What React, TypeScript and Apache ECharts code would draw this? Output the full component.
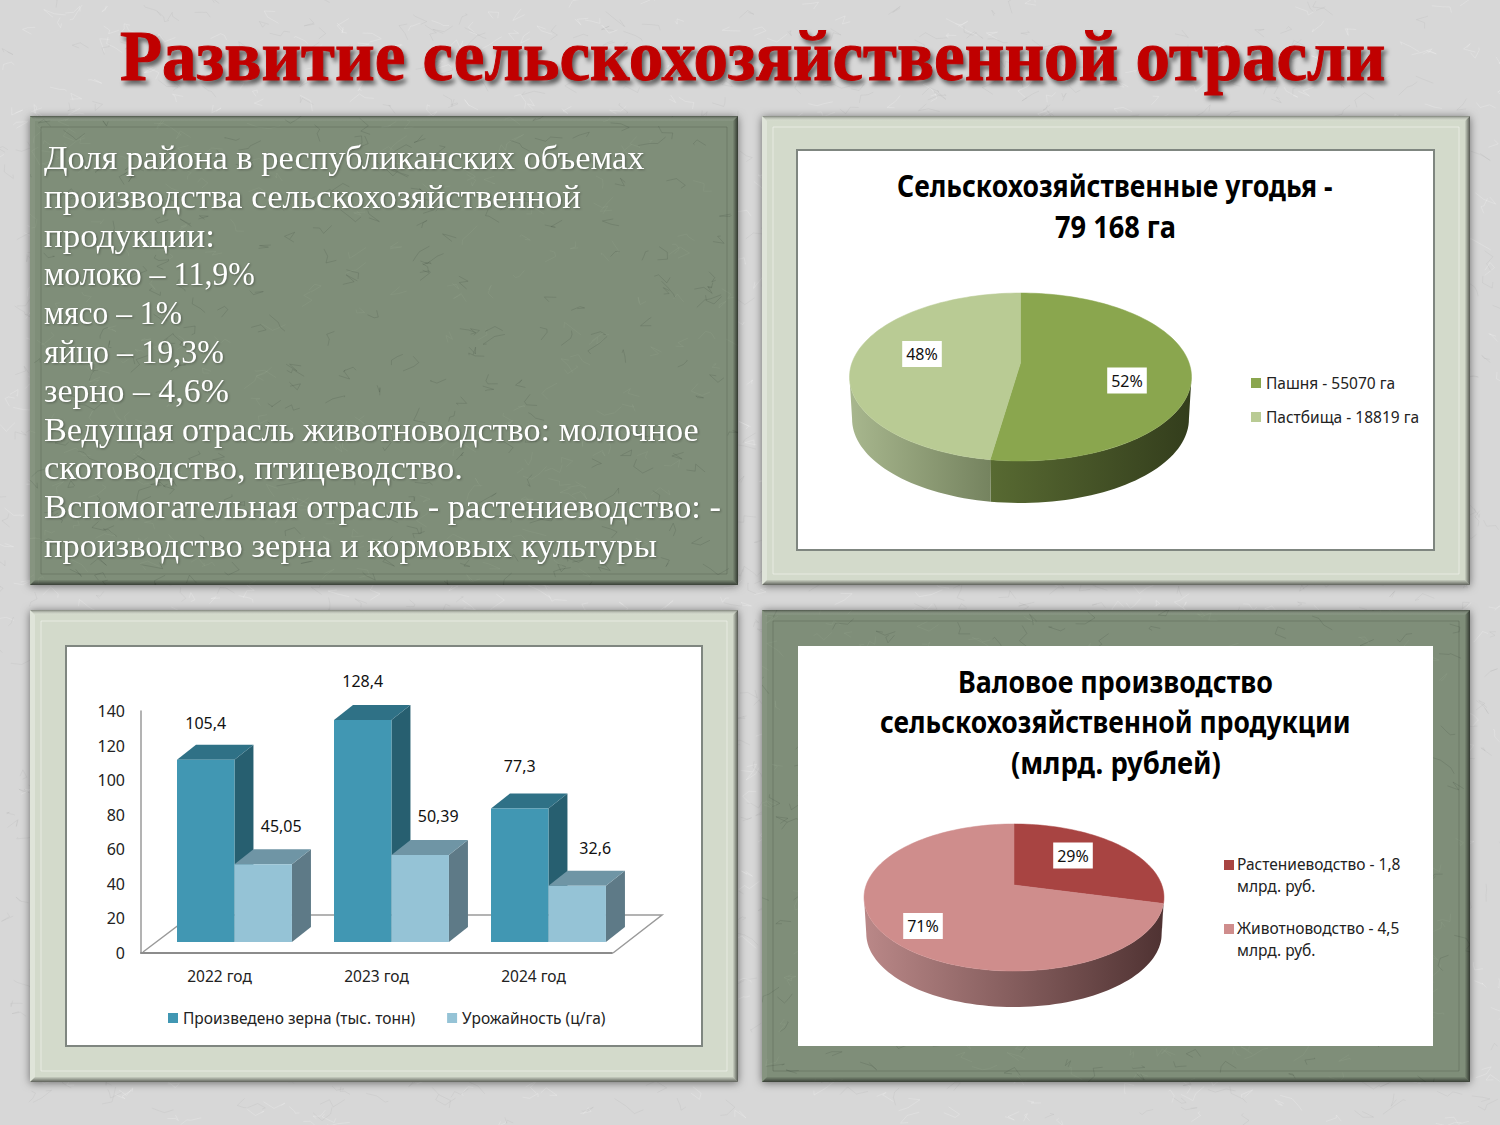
import React, { useEffect, useRef } from "react";
import * as echarts from "echarts";

const SLIDE_TITLE = "Развитие сельскохозяйственной отрасли";
const BODY_LINES = [
  "Доля района в республиканских объемах",
  "производства сельскохозяйственной",
  "продукции:",
  "молоко – 11,9%",
  "мясо – 1%",
  "яйцо – 19,3%",
  "зерно – 4,6%",
  "Ведущая отрасль животноводство: молочное",
  "скотоводство, птицеводство.",
  "Вспомогательная отрасль - растениеводство: -",
  "производство зерна и кормовых культуры",
];
const BODY_LINE_ENDS = [645, 581, 215, 255, 182, 224, 229, 699, 463, 721, 657];

const YEARS = ["2022 год", "2023 год", "2024 год"];
const GRAIN = [105.4, 128.4, 77.3];
const YIELD = [45.05, 50.39, 32.6];
const GRAIN_NAME = "Произведено зерна (тыс. тонн)";
const YIELD_NAME = "Урожайность (ц/га)";
const GRAIN_LABEL_LIFT = [37, 39, 42];
const YIELD_LABEL_LIFT = [38, 39, 38];

const LAND_TITLE = ["Сельскохозяйственные угодья -", "79 168 га"];
const LAND_NAMES = ["Пашня - 55070 га", "Пастбища - 18819 га"];
const LAND_SHARE = [52.4, 47.6];

const GROSS_TITLE = ["Валовое производство", "сельскохозяйственной продукции", "(млрд. рублей)"];
const GROSS_NAMES = ["Растениеводство - 1,8\nмлрд. руб.", "Животноводство - 4,5\nмлрд. руб."];
const GROSS_SHARE = [29, 71];

const SANS = '"Noto Sans", sans-serif';
const SERIF = '"Liberation Serif", serif';

function measure(text: string, font: string) {
  const c = document.createElement("canvas").getContext("2d")!;
  c.font = font;
  return c.measureText(text).width;
}

function fitted(text: string, x: number, y: number, width: number, size: number, family: string, weight: string, fill: string, extra: any = {}) {
  const w = measure(text, `${weight} ${size}px ${family}`);
  return {
    type: "text", x, y, scaleX: width / w, z: -5,
    style: { text, x: 0, y: 0, fontSize: size, fontFamily: family, fontWeight: weight, fill, align: "left", verticalAlign: "middle", ...extra },
  };
}

function texture(w: number, h: number, base: string, dark: string, light: string, seed: number) {
  const cv = document.createElement("canvas");
  cv.width = w; cv.height = h;
  const c = cv.getContext("2d")!;
  c.fillStyle = base; c.fillRect(0, 0, w, h);
  let s = seed;
  const r = () => { s = (s * 16807) % 2147483647; return s / 2147483647; };
  const count = Math.round((w * h) / 700);
  for (let i = 0; i < count; i++) {
    let x = r() * w, y = r() * h;
    c.strokeStyle = r() > 0.5 ? dark : light;
    c.lineWidth = 0.8;
    c.beginPath(); c.moveTo(x, y);
    for (let k = 0; k < 3; k++) { x += (r() - 0.5) * 24; y += (r() - 0.5) * 16; c.lineTo(x, y); }
    c.stroke();
  }
  return cv.toDataURL("image/png");
}

function grad(x0: number, y0: number, x1: number, y1: number, from: string, to: string) {
  return new echarts.graphic.LinearGradient(x0, y0, x1, y1, [{ offset: 0, color: from }, { offset: 1, color: to }]);
}

function panel(x: number, y: number, w: number, h: number, textured: boolean) {
  const B = 5, L = 11;
  const els: any[] = [{
    type: "rect", z: -9, shape: { x, y, width: w, height: h },
    style: { fill: textured ? "#7f8e79" : "#d3dacb", shadowBlur: 9, shadowColor: "rgba(0,0,0,.5)", shadowOffsetX: 0, shadowOffsetY: 1 },
  }];
  if (textured) {
    els.push({ type: "image", z: -8, style: { image: texture(w, h, "#7f8e79", "rgba(60,72,56,.22)", "rgba(170,182,160,.16)", 7 + x + y), x, y, width: w, height: h } });
  }
  const x2 = x + w, y2 = y + h;
  const hi = textured ? "rgba(255,255,255,.06)" : "rgba(255,255,255,.28)";
  const bevel = [
    [[x, y], [x2, y], [x2 - B, y + B], [x + B, y + B], grad(0, 0, 0, 1, "rgba(0,0,0,.4)", "rgba(255,255,255,.03)")],
    [[x, y], [x + B, y + B], [x + B, y2 - B], [x, y2], hi],
    [[x2, y], [x2, y2], [x2 - B, y2 - B], [x2 - B, y + B], grad(0, 0, 1, 0, "rgba(0,0,0,.04)", "rgba(0,0,0,.6)")],
    [[x, y2], [x + B, y2 - B], [x2 - B, y2 - B], [x2, y2], grad(0, 0, 0, 1, "rgba(0,0,0,.05)", "rgba(0,0,0,.55)")],
  ] as any[];
  bevel.forEach((b) => els.push({ type: "polygon", z: -7, shape: { points: b.slice(0, 4) }, style: { fill: b[4] } }));
  els.push({
    type: "rect", z: -7, shape: { x: x + L, y: y + L, width: w - 2 * L, height: h - 2 * L },
    style: { fill: "none", stroke: textured ? "rgba(50,60,48,.22)" : "rgba(255,255,255,.45)", lineWidth: 1 },
  });
  return els;
}

function whiteBox(x: number, y: number, w: number, h: number, border: boolean) {
  return { type: "rect", z: -6, shape: { x, y, width: w, height: h }, style: { fill: "#fff", stroke: border ? "#7f8680" : "none", lineWidth: 2 } };
}

type Pie = { cx: number; cy: number; A: number; B: number; p: number; depth: number };
const PIE_LAND: Pie = { cx: 1020.5, cy: 363, A: 168.6, B: 81.67, p: 1 / 6, depth: 42 };
const PIE_GROSS: Pie = { cx: 1014, cy: 885, A: 147.8, B: 71.4, p: 0.17, depth: 36 };

function rim(pie: Pie, deg: number, bottom = false): number[] {
  const t = (deg * Math.PI) / 180;
  const u = Math.sin(t), v = -Math.cos(t), d = 1 - pie.p * v;
  const k = bottom ? 0.985 : 1;
  return [pie.cx + (k * pie.A * u) / d, pie.cy + (pie.B * v) / d + (bottom ? pie.depth : 0)];
}

function arc(pie: Pie, a: number, b: number, bottom = false) {
  const pts: number[][] = [];
  const n = Math.max(2, Math.ceil(Math.abs(b - a) / 2));
  for (let i = 0; i <= n; i++) pts.push(rim(pie, a + ((b - a) * i) / n, bottom));
  return pts;
}

function pieSeries(name: string, shares: number[], idx: number, pie: Pie, color: string, side: string[], labelAt: number[]) {
  return {
    type: "custom", name, coordinateSystem: "none", silent: true, z: 3,
    itemStyle: { color },
    data: [[shares[idx]]],
    renderItem: (_: any, api: any) => {
      const value = api.value(0);
      const total = shares.reduce((s, x) => s + x, 0);
      const before = shares.slice(0, idx).reduce((s, x) => s + x, 0);
      const a = (before / total) * 360, b = a + (value / total) * 360;
      const lim = (Math.acos(-pie.p) * 180) / Math.PI;
      const fa = Math.max(a, lim), fb = Math.min(b, 360 - lim);
      const children: any[] = [];
      if (fb > fa) {
        children.push({
          type: "polygon",
          shape: { points: [...arc(pie, fa, fb), ...arc(pie, fb, fa, true)] },
          style: { fill: grad(0, 0, 1, 0, side[0], side[1]) },
        });
      }
      children.push({
        type: "polygon",
        shape: { points: [[pie.cx, pie.cy], ...arc(pie, a, b)] },
        style: { fill: color, stroke: color, lineWidth: 0.5 },
      });
      children.push({
        type: "text", z2: 10,
        style: { text: `${Math.round(value)}%`, x: labelAt[0], y: labelAt[1], fontSize: 16, fontFamily: SANS, fill: "#111", align: "center", verticalAlign: "middle", backgroundColor: "#fff", padding: [6, 4, 4, 4] },
      });
      return { type: "group", children };
    },
  };
}

const BAR_W = 0.366;
function barSeries(name: string, values: number[], start: number, labelDx: number, lifts: number[], colors: string[]) {
  return {
    type: "custom", name, coordinateSystem: "cartesian2d", silent: true, z: 3,
    encode: { x: 0, y: 1 },
    itemStyle: { color: colors[0] },
    data: values.map((v, i) => [i, v]),
    renderItem: (_: any, api: any) => {
      const i = api.value(0), v = api.value(1);
      const top = api.coord([i, v]), base = api.coord([i, 0]);
      const band = api.size([1, 0])[0];
      const w = band * BAR_W;
      const x0 = top[0] + band * start, x1 = x0 + w;
      const yt = top[1] - 11, yb = base[1] - 11;
      const dx = 19, dy = -15;
      return {
        type: "group",
        children: [
          { type: "polygon", shape: { points: [[x1, yt], [x1 + dx, yt + dy], [x1 + dx, yb + dy], [x1, yb]] }, style: { fill: colors[2] } },
          { type: "polygon", shape: { points: [[x0, yt], [x0 + dx, yt + dy], [x1 + dx, yt + dy], [x1, yt]] }, style: { fill: colors[1] } },
          { type: "rect", shape: { x: x0, y: yt, width: w, height: yb - yt }, style: { fill: colors[0] } },
          { type: "text", z2: 10, style: { text: String(v).replace(".", ","), x: (x0 + x1) / 2 + labelDx, y: yt - lifts[i], fontSize: 16, fontFamily: SANS, fill: "#111", align: "center", verticalAlign: "middle" } },
        ],
      };
    },
  };
}

function buildOption() {
  const graphic: any[] = [
    { type: "image", z: -10, style: { image: texture(1500, 1125, "#d7d7d7", "rgba(150,150,150,.16)", "rgba(245,245,245,.3)", 12345), x: 0, y: 0, width: 1500, height: 1125 } },
    fitted(SLIDE_TITLE, 120, 55, 1265, 72, SERIF, "bold", "#c00000", { stroke: "#c00000", lineWidth: 1 }),
    ...panel(30, 116, 708, 469, true),
    ...panel(762, 116, 708, 469, false),
    ...panel(30, 610, 708, 472, false),
    ...panel(762, 610, 708, 472, true),
    whiteBox(797, 150, 637, 400, true),
    whiteBox(66, 646, 636, 400, true),
    whiteBox(798, 646, 635, 400, false),
    // floor of the 3D column chart
    { type: "polyline", z: -4, shape: { points: [[143, 952], [192, 915], [662, 915], [613, 953]] }, style: { fill: "none", stroke: "#9a9a9a", lineWidth: 1.5 } },
  ];
  BODY_LINES.forEach((t, i) => {
    graphic.push(fitted(t, 44, 158 + i * 38.75, BODY_LINE_ENDS[i] - 44, 33, SERIF, "normal", "#ffffff"));
  });
  graphic.push(fitted(LAND_TITLE[0], 897, 185.5, 436, 30, SANS, "bold", "#000"));
  graphic.push(fitted(LAND_TITLE[1], 1055, 225.5, 121, 30, SANS, "bold", "#000"));
  graphic.push(fitted(GROSS_TITLE[0], 958, 681.5, 315, 30, SANS, "bold", "#000"));
  graphic.push(fitted(GROSS_TITLE[1], 880, 721.5, 471, 30, SANS, "bold", "#000"));
  graphic.push(fitted(GROSS_TITLE[2], 1011, 762.5, 210, 30, SANS, "bold", "#000"));

  const grossColors = ["#a84442", "#cf8d8c"];
  GROSS_NAMES.forEach((n, i) => {
    const y = 865 + i * 64;
    graphic.push({ type: "rect", z: -4, shape: { x: 1224, y: y - 5, width: 10, height: 10 }, style: { fill: grossColors[i] } });
    n.split("\n").forEach((line, j) => {
      graphic.push({ type: "text", z: -4, x: 1237, y: y - 1 + j * 22, style: { text: line, x: 0, y: 0, fontSize: 15.5, fontFamily: SANS, fill: "#222", align: "left", verticalAlign: "middle" } });
    });
  });

  const legendText = { fontSize: 15.5, fontFamily: SANS, color: "#222", lineHeight: 20 };
  return {
    animation: false,
    backgroundColor: "#d7d7d7",
    graphic: { elements: graphic },
    grid: { left: 141, top: 711, width: 471, height: 242, containLabel: false },
    xAxis: {
      type: "category", data: YEARS,
      axisLine: { lineStyle: { color: "#8c8c8c", width: 2 } },
      axisTick: { show: false },
      axisLabel: { margin: 15, fontSize: 15.5, fontFamily: SANS, color: "#222" },
    },
    yAxis: {
      type: "value", min: 0, max: 140, interval: 20,
      axisLine: { show: true, lineStyle: { color: "#9a9a9a", width: 1.5 } },
      axisTick: { show: false },
      splitLine: { show: false },
      axisLabel: { margin: 16, fontSize: 16, fontFamily: SANS, color: "#222" },
    },
    legend: [
      { left: 168, top: 1008, padding: 0, itemWidth: 10, itemHeight: 10, itemGap: 32, icon: "rect", selectedMode: false, textStyle: legendText, data: [GRAIN_NAME, YIELD_NAME] },
      { left: 1251, top: 373, padding: 0, orient: "vertical", itemWidth: 10, itemHeight: 10, itemGap: 14, icon: "rect", selectedMode: false, textStyle: legendText, data: LAND_NAMES },
    ],
    series: [
      barSeries(GRAIN_NAME, GRAIN, -0.2707, 0, GRAIN_LABEL_LIFT, ["#4197b3", "#2f7186", "#275f70"]),
      barSeries(YIELD_NAME, YIELD, 0.0955, 18, YIELD_LABEL_LIFT, ["#95c3d6", "#6f95a5", "#5e7a87"]),
      pieSeries(LAND_NAMES[0], LAND_SHARE, 0, PIE_LAND, "#8aa64e", ["#586a32", "#333d1c"], [1127, 380.5]),
      pieSeries(LAND_NAMES[1], LAND_SHARE, 1, PIE_LAND, "#b9cb94", ["#a8b78e", "#75835f"], [922, 354]),
      pieSeries(GROSS_NAMES[0], GROSS_SHARE, 0, PIE_GROSS, grossColors[0], ["#503333", "#503333"], [1073, 855.5]),
      pieSeries(GROSS_NAMES[1], GROSS_SHARE, 1, PIE_GROSS, grossColors[1], ["#ba8888", "#4f3232"], [923, 926]),
    ],
  };
}

export default function App() {
  const ref = useRef<HTMLDivElement>(null);
  useEffect(() => {
    document.body.style.margin = "0";
    const chart = echarts.init(ref.current!, undefined, { renderer: "svg" });
    chart.setOption(buildOption() as any);
    ref.current!.querySelectorAll("text").forEach((el: any) => {
      if (el.textContent === SLIDE_TITLE) el.style.filter = "drop-shadow(3px 4px 2px rgba(0,0,0,.55))";
      else if (BODY_LINES.includes(el.textContent)) el.style.filter = "drop-shadow(1px 1px 1px rgba(0,0,0,.3))";
    });
    return () => chart.dispose();
  }, []);
  return <div ref={ref} style={{ position: "absolute", left: 0, top: 0, width: 1500, height: 1125 }} />;
}
